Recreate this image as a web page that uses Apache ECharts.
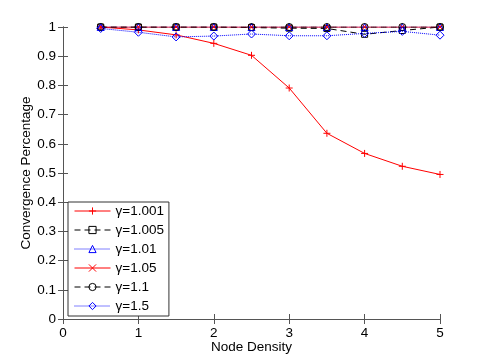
<!DOCTYPE html>
<html>
<head>
<meta charset="utf-8">
<script src="https://cdn.jsdelivr.net/npm/echarts@6/dist/echarts.min.js"></script>
<style>
html, body { margin: 0; padding: 0; background: #fff; }
#main { width: 485px; height: 360px; }
</style>
</head>
<body>
<div id="main"></div>
<script>
// node density values
var density = [0.5, 1, 1.5, 2, 2.5, 3, 3.5, 4, 4.5, 5];
// convergence for each gamma
var g1001 = [1.0, 0.99, 0.973, 0.944, 0.903, 0.791, 0.636, 0.567, 0.523, 0.495];
var g1005 = [1.0, 1.0, 1.0, 1.0, 0.998, 0.996, 0.995, 0.975, 0.988, 1.0];
var g101 = [1.0, 1.0, 1.0, 1.0, 1.0, 1.0, 1.0, 1.0, 1.0, 1.0];
var g105 = [1.0, 1.0, 1.0, 1.0, 1.0, 1.0, 1.0, 1.0, 1.0, 1.0];
var g11 = [1.0, 1.0, 1.0, 1.0, 1.0, 1.0, 1.0, 1.0, 1.0, 1.0];
var g15 = [0.995, 0.982, 0.966, 0.969, 0.976, 0.97, 0.97, 0.978, 0.985, 0.972];
var names = ['γ=1.001', 'γ=1.005', 'γ=1.01', 'γ=1.05', 'γ=1.1', 'γ=1.5'];

function pairs(ys) {
    var out = [];
    for (var i = 0; i < density.length; i++) {
        out.push([density[i], ys[i]]);
    }
    return out;
}

var plusPath = 'path://M0,5L10,5M5,0L5,10';
var crossPath = 'path://M0,0L10,10M10,0L0,10';
var font = 'Liberation Sans, Arial, sans-serif';
var axisGray = '#555';

function mkSeries(name, ys, color, lineType, symbol, size) {
    return {
        name: name,
        type: 'line',
        data: pairs(ys),
        symbol: symbol,
        symbolSize: size,
        showSymbol: true,
        animation: false,
        lineStyle: { color: color, width: 1, type: lineType },
        itemStyle: { color: 'transparent', borderColor: color, borderWidth: 1 }
    };
}

var myChart = echarts.init(document.getElementById('main'));
var option = {
    backgroundColor: '#fff',
    animation: false,
    textStyle: { fontFamily: font },
    grid: { left: 63, right: 45, top: 27, bottom: 41 },
    legend: {
        orient: 'vertical',
        left: 68,
        top: 202,
        data: names,
        itemWidth: 36,
        itemHeight: 9,
        itemGap: 5,
        padding: [2, 5, 3, 6],
        backgroundColor: '#fff',
        borderColor: '#333',
        borderWidth: 1,
        borderRadius: 0,
        lineStyle: { width: 1 },
        itemStyle: { borderWidth: 1 },
        textStyle: { fontSize: 13.5, lineHeight: 14, color: '#000', fontFamily: font }
    },
    xAxis: [{
        type: 'value',
        min: 0, max: 5, interval: 1,
        name: 'Node Density',
        nameLocation: 'middle',
        nameGap: 21,
        nameMoveOverlap: false,
        nameTextStyle: { fontSize: 13.5, color: '#000', fontFamily: font },
        axisLine: { lineStyle: { color: axisGray } },
        axisTick: { inside: true, length: 5, lineStyle: { color: axisGray } },
        axisLabel: { margin: 7, fontSize: 13.5, color: '#000' },
        splitLine: { show: false }
    }, {
        type: 'value',
        position: 'top',
        min: 0, max: 5, interval: 1,
        axisLine: { lineStyle: { color: axisGray } },
        axisTick: { inside: true, length: 5, lineStyle: { color: axisGray } },
        axisLabel: { show: false },
        splitLine: { show: false }
    }],
    yAxis: [{
        type: 'value',
        min: 0, max: 1, interval: 0.1,
        name: 'Convergence Percentage',
        nameLocation: 'middle',
        nameGap: 30,
        nameMoveOverlap: false,
        nameTextStyle: { fontSize: 13.5, color: '#000', fontFamily: font },
        axisLine: { lineStyle: { color: axisGray } },
        axisTick: { inside: true, length: 5, lineStyle: { color: axisGray } },
        axisLabel: { margin: 7, fontSize: 13.5, color: '#000' },
        splitLine: { show: false }
    }, {
        type: 'value',
        position: 'right',
        min: 0, max: 1, interval: 0.1,
        axisLine: { lineStyle: { color: axisGray } },
        axisTick: { inside: true, length: 5, lineStyle: { color: axisGray } },
        axisLabel: { show: false },
        splitLine: { show: false }
    }],
    series: [
        mkSeries(names[0], g1001, '#ff0000', 'solid', plusPath, 7),
        mkSeries(names[1], g1005, '#000000', [6, 4], 'rect', 6),
        mkSeries(names[2], g101, '#0000ff', 'dotted', 'triangle', 7),
        mkSeries(names[3], g105, '#ff0000', 'solid', crossPath, 5),
        mkSeries(names[4], g11, '#000000', [6, 4], 'circle', 7),
        mkSeries(names[5], g15, '#0000ff', 'dotted', 'diamond', 8)
    ]
};
myChart.setOption(option);
</script>
</body>
</html>
